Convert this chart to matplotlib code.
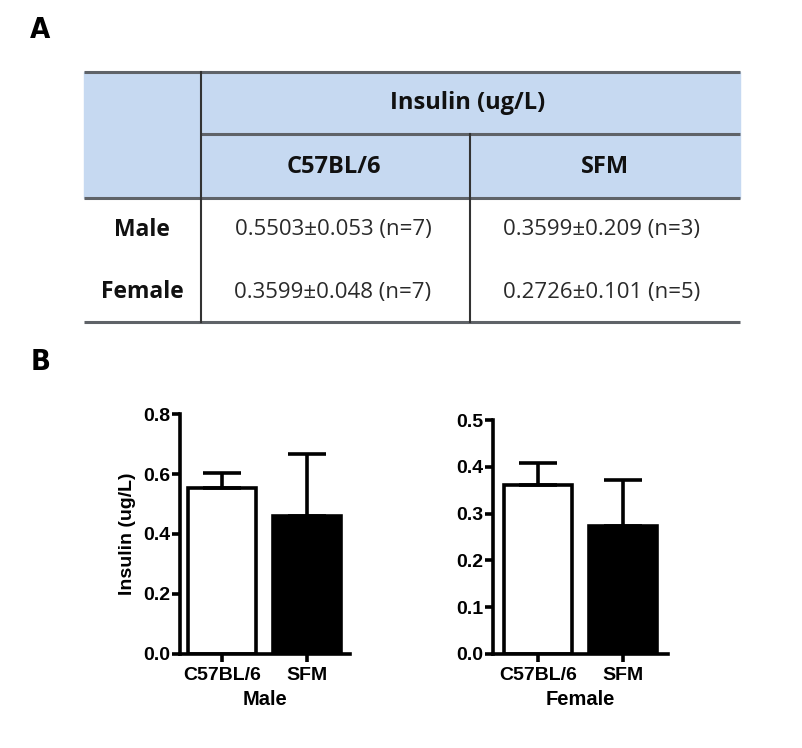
import matplotlib
matplotlib.use("Agg")
import matplotlib.pyplot as plt

# ---------------- data ----------------
strains = ["C57BL/6", "SFM"]
sexes = ["Male", "Female"]
table_mean = [[0.5503, 0.3599], [0.3599, 0.2726]]
table_sem = [[0.053, 0.209], [0.048, 0.101]]
table_n = [[7, 3], [7, 5]]
table_header = "Insulin (ug/L)"

male_values = [0.553, 0.460]
male_err = [0.050, 0.207]
female_values = [0.361, 0.2735]
female_err = [0.047, 0.099]
male_yticks = [0.0, 0.2, 0.4, 0.6, 0.8]
female_yticks = [0.0, 0.1, 0.2, 0.3, 0.4, 0.5]
ylabel = "Insulin (ug/L)"

W, H = 803, 748
fig = plt.figure(figsize=(W / 100, H / 100), dpi=100)

# ---------------- panel A : table (pixel coordinate overlay) ----------------
ov = fig.add_axes([0, 0, 1, 1])
ov.set_xlim(0, W)
ov.set_ylim(H, 0)
ov.axis("off")

tfont = ["Open Sans", "DejaVu Sans"]
x0, x1, xc1, xc2 = 84, 740, 201.5, 470.5
y_top, y_mid, y_hdr, y_bot = 71.5, 133.5, 197.5, 322
ov.fill_between([x0, x1], y_top, y_hdr, color="#c6d9f1", zorder=0)
lc = "#5f6368"
for y in (y_top, y_hdr, y_bot):
    ov.plot([x0, x1], [y, y], color=lc, lw=2.2, solid_capstyle="butt", zorder=2)
ov.plot([xc1, x1], [y_mid, y_mid], color=lc, lw=2.2, solid_capstyle="butt", zorder=2)
ov.plot([xc1, xc1], [y_top, y_bot], color="#333333", lw=1.5, zorder=3)
ov.plot([xc2, xc2], [y_mid, y_bot], color="#333333", lw=1.5, zorder=3)

ov.text(468, 103, table_header, ha="center", va="center", fontsize=17,
        fontweight="bold", family=tfont, color="#111111")
col_x = [334, 605]
for cx, s in zip(col_x, strains):
    ov.text(cx, 167, s, ha="center", va="center", fontsize=17,
            fontweight="bold", family=tfont, color="#111111")
row_y = [229.5, 292]
data_x = [333, 602]
for r, (ry, sx) in enumerate(zip(row_y, sexes)):
    ov.text(142, ry, sx, ha="center", va="center", fontsize=16.5,
            fontweight="bold", family=tfont, color="#111111")
    for c in range(2):
        s = f"{table_mean[r][c]:.4f}\u00b1{table_sem[r][c]:.3f} (n={table_n[r][c]})"
        ov.text(data_x[c], ry, s, ha="center", va="center", fontsize=16,
                family=tfont, color="#2a2a2a")

ov.text(40.5, 30, "A", ha="center", va="center", fontsize=21,
        fontweight="bold", family="DejaVu Sans", fontstretch="condensed")
ov.text(40.5, 362, "B", ha="center", va="center", fontsize=21,
        fontweight="bold", family="DejaVu Sans", fontstretch="condensed")

# ---------------- panel B : bar charts ----------------
cfont = ["Liberation Sans", "DejaVu Sans"]
lw = 2.6


def bar_panel(rect, values, errs, yticks, xlim, xlabel, show_ylabel):
    ax = fig.add_axes(rect)
    x = list(range(len(strains)))
    ax.bar(x, values, width=0.8, color=["white", "black"],
           edgecolor="black", linewidth=lw, zorder=2)
    ax.errorbar(x, values, yerr=[[0] * len(errs), errs], fmt="none",
                ecolor="black", elinewidth=lw, capsize=14, capthick=lw,
                zorder=3)
    ax.set_ylim(yticks[0], yticks[-1])
    ax.set_xlim(*xlim)
    ax.set_yticks(yticks)
    ax.set_yticklabels([f"{t:.1f}" for t in yticks])
    ax.set_xticks(x)
    ax.set_xticklabels(strains)
    for sp in ("top", "right"):
        ax.spines[sp].set_visible(False)
    for sp in ("left", "bottom"):
        ax.spines[sp].set_linewidth(lw)
        ax.spines[sp].set_capstyle("projecting")
    ax.tick_params(axis="y", direction="out", length=6, width=lw,
                   labelsize=14, pad=1)
    ax.tick_params(axis="x", direction="out", length=6, width=lw,
                   labelsize=14, pad=3)
    for lab in ax.get_xticklabels() + ax.get_yticklabels():
        lab.set_fontweight("bold")
        lab.set_family(cfont)
    ax.set_xlabel(xlabel, fontsize=14.5, fontweight="bold", family=cfont,
                  labelpad=5)
    if show_ylabel:
        ax.set_ylabel(ylabel, fontsize=14, fontweight="bold", family=cfont,
                      labelpad=5)
    ax.patch.set_alpha(0)
    return ax


bar_panel([180 / W, 1 - 654 / H, 170 / W, 240 / H], male_values, male_err,
          male_yticks, (-0.494, 1.506), "Male", True)
bar_panel([493 / W, 1 - 654 / H, 175 / W, 234 / H], female_values, female_err,
          female_yticks, (-0.53, 1.53), "Female", False)

fig.savefig("out.png", dpi=100)
